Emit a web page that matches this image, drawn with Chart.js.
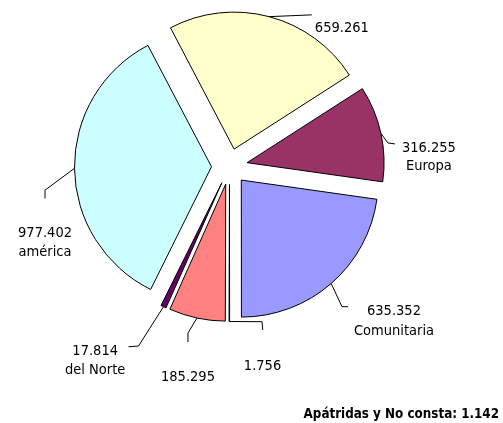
<!DOCTYPE html>
<html>
<head>
<meta charset="utf-8">
<script src="https://cdn.jsdelivr.net/npm/chart.js@4"></script>
<style>
  html, body { margin: 0; padding: 0; background: #fff; }
  #wrap { width: 503px; height: 423px; }
</style>
</head>
<body>
<div id="wrap"><canvas id="c" width="503" height="423"></canvas></div>
<script>
// ---- data ----
const categories = ['Europa', 'Comunitaria', '', '', 'del Norte', 'américa', ''];
const values = [316255, 635352, 1756, 185295, 17814, 977402, 659261];
const footnoteLabel = 'Apátridas y No consta';
const footnoteValue = 1142;

// ---- styles ----
const sliceColors = ['#993366', '#9999FF', '#FFFFFF', '#FF8080', '#660066', '#CCFFFF', '#FFFFCC'];
const explode = 18;
const labelFont = '14.5px "DejaVu Sans Condensed", "DejaVu Sans", sans-serif';
const footFont = 'bold 13.3px "DejaVu Sans Condensed", "DejaVu Sans", sans-serif';
// label layout: leader points and text anchors relative to the arc mid point
const labelLayout = [
  { leader: [[7, 9.5], [14, 10.5]], tx: 48, ty: [18.2, 37] },
  { leader: [[10.8, 23.2], [16.8, 23.2]], tx: 62.8, ty: [31.2, 51.5] },
  { leader: [[32.7, 0.2], [33.4, 8.5]], tx: 33.2, ty: [48.5, 67.5] },
  { leader: [[-9, 15], [-9, 24]], tx: -9, ty: [63, 82] },
  { leader: [[-25, 39.3], [-35, 40]], tx: -68.3, ty: [48.3, 67.3] },
  { leader: [[-29.5, 21.9], [-29.5, 30.2]], tx: -29.5, ty: [68.6, 87.9] },
  { leader: [[42.7, -1.8]], tx: 72.7, ty: [15.2, 34.2] }
];

function fmt(n) {
  return String(n).replace(/\B(?=(\d{3})+(?!\d))/g, '.');
}

const explodePlugin = {
  id: 'explode',
  afterDatasetUpdate(chart, args) {
    args.meta.data.forEach(arc => {
      const mid = (arc.startAngle + arc.endAngle) / 2;
      arc.x += Math.cos(mid) * explode;
      arc.y += Math.sin(mid) * explode;
    });
  }
};

const labelPlugin = {
  id: 'pieLabels',
  afterDatasetsDraw(chart) {
    const ctx = chart.ctx;
    const meta = chart.getDatasetMeta(0);
    ctx.save();
    ctx.strokeStyle = '#000';
    ctx.lineWidth = 1;
    ctx.fillStyle = '#000';
    ctx.font = labelFont;
    ctx.textAlign = 'center';
    ctx.textBaseline = 'alphabetic';
    meta.data.forEach((arc, i) => {
      const mid = (arc.startAngle + arc.endAngle) / 2;
      const px = arc.x + Math.cos(mid) * arc.outerRadius;
      const py = arc.y + Math.sin(mid) * arc.outerRadius;
      const L = labelLayout[i];
      ctx.beginPath();
      ctx.moveTo(px, py);
      L.leader.forEach(p => ctx.lineTo(px + p[0], py + p[1]));
      ctx.stroke();
      const lines = [fmt(values[i])];
      if (categories[i]) lines.push(categories[i]);
      lines.forEach((t, k) => ctx.fillText(t, px + L.tx, py + L.ty[k]));
    });
    ctx.font = footFont;
    ctx.textAlign = 'right';
    ctx.fillText(footnoteLabel + ': ' + fmt(footnoteValue), chart.width - 4, chart.height - 5.3);
    ctx.restore();
  }
};

new Chart(document.getElementById('c'), {
  type: 'pie',
  data: {
    labels: categories,
    datasets: [{
      data: values,
      backgroundColor: sliceColors,
      borderColor: '#000000',
      borderWidth: 1,
      offset: 0
    }]
  },
  options: {
    responsive: false,
    animation: false,
    events: [],
    rotation: 57.3,
    radius: 137,
    layout: { padding: { left: 0, right: 44, top: 0, bottom: 90 } },
    plugins: {
      legend: { display: false },
      tooltip: { enabled: false },
      title: { display: false }
    }
  },
  plugins: [explodePlugin, labelPlugin]
});
</script>
</body>
</html>
